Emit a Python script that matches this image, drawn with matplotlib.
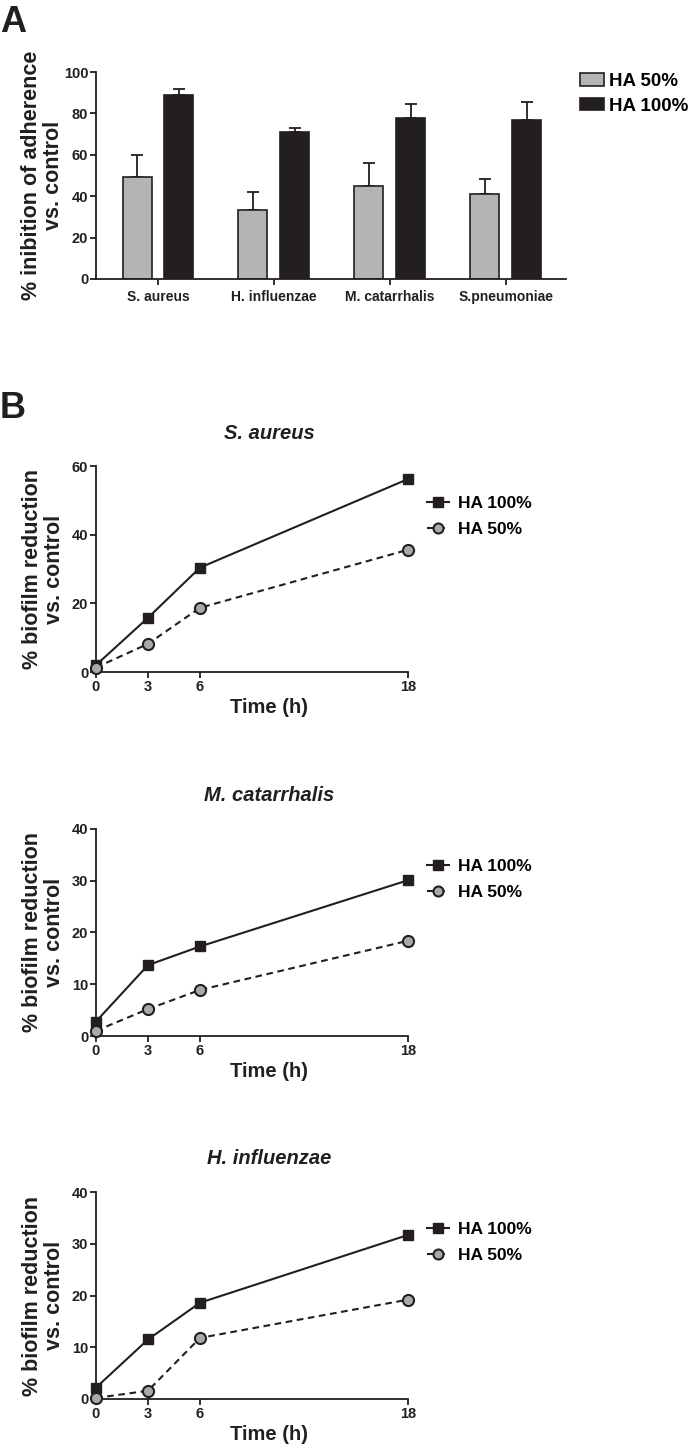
import numpy as np
import matplotlib
matplotlib.use("Agg")
import matplotlib.pyplot as plt
from matplotlib.patches import Patch

# data
bacteria = ['S. aureus', 'H. influenzae', 'M. catarrhalis', 'S.pneumoniae']
adh_ha50 = [49.5, 33.5, 45.0, 41.0]
adh_ha50_err = [10.5, 8.5, 11.0, 7.5]
adh_ha100 = [89.0, 71.0, 78.0, 77.0]
adh_ha100_err = [3.0, 2.0, 6.5, 8.5]

time_h = [0, 3, 6, 18]
time_ticks = [0, 3, 6, 18]

sa_ha100 = [2.0, 15.8, 30.4, 56.2]
sa_ha50 = [1.3, 8.2, 18.7, 35.6]
mc_ha100 = [2.8, 13.7, 17.3, 30.1]
mc_ha50 = [1.0, 5.2, 8.9, 18.4]
hi_ha100 = [2.2, 11.5, 18.6, 31.7]
hi_ha50 = [0.2, 1.6, 11.8, 19.2]

GRAY = '#b4b4b4'
DARK = '#231f20'
MARK_GRAY = '#a9a9a9'

FONT = ['Liberation Sans', 'DejaVu Sans']
plt.rcParams['font.family'] = FONT
plt.rcParams['font.weight'] = 'bold'

W, H = 689, 1453
fig = plt.figure(figsize=(W / 100, H / 100), dpi=100)


def box(x0, x1, ytop, ybot):
    return [x0 / W, 1 - ybot / H, (x1 - x0) / W, (ybot - ytop) / H]


def style_axes(ax):
    for s in ['top', 'right']:
        ax.spines[s].set_visible(False)
    for s in ['left', 'bottom']:
        ax.spines[s].set_linewidth(1.3)
        ax.spines[s].set_color(DARK)
    ax.tick_params(direction='out', length=4, width=1.3, color=DARK, pad=1.5,
                   labelsize=10.5, labelcolor=DARK)


# ---- panel A: bars ----
axA = fig.add_axes(box(96, 566, 72, 279))
x = np.arange(len(bacteria))
off, bw = 0.18, 0.25
axA.bar(x - off, adh_ha50, bw, color=GRAY, edgecolor=DARK, linewidth=1.2, zorder=2)
axA.bar(x + off, adh_ha100, bw, color=DARK, edgecolor=DARK, linewidth=1.2, zorder=2)
axA.errorbar(x - off, adh_ha50, yerr=[np.zeros(4), adh_ha50_err], fmt='none',
             ecolor=DARK, elinewidth=1.3, capsize=4.5, capthick=1.3, zorder=1)
axA.errorbar(x + off, adh_ha100, yerr=[np.zeros(4), adh_ha100_err], fmt='none',
             ecolor=DARK, elinewidth=1.3, capsize=4.5, capthick=1.3, zorder=1)
axA.set_xlim(-0.534, 3.52)
axA.set_ylim(0, 100)
axA.set_yticks([0, 20, 40, 60, 80, 100])
axA.set_xticks(x)
axA.set_xticklabels(bacteria)
style_axes(axA)
axA.tick_params(axis='x', pad=4, labelsize=10)
axA.set_ylabel('% inibition of adherence\nvs. control', fontsize=15.5, fontweight='bold',
               color=DARK, linespacing=1.05)
axA.yaxis.set_label_coords(-0.068, 0.5)
axA.legend(handles=[Patch(facecolor=GRAY, edgecolor=DARK, linewidth=1.2, label='HA 50%'),
                    Patch(facecolor=DARK, edgecolor=DARK, linewidth=1.2, label='HA 100%')],
           loc='upper left', bbox_to_anchor=(1.03, 0.995), frameon=False,
           prop={'weight': 'bold', 'size': 13.5},
           handlelength=1.25, handleheight=0.65, handletextpad=0.3, labelspacing=0.4,
           borderaxespad=0, borderpad=0)
fig.text(0 / W, 1 - 22 / H, 'A', fontsize=26, fontweight='bold', va='center', ha='left', color=DARK)

# ---- panel B: time courses ----
panels = [
    ('S. aureus', sa_ha100, sa_ha50, 60, [0, 20, 40, 60], 466, 672),
    ('M. catarrhalis', mc_ha100, mc_ha50, 40, [0, 10, 20, 30, 40], 829, 1036),
    ('H. influenzae', hi_ha100, hi_ha50, 40, [0, 10, 20, 30, 40], 1192, 1399),
]
for title, y100, y50, ymax, yt, ytop, ybot in panels:
    ax = fig.add_axes(box(96, 408, ytop, ybot))
    ax.plot(time_h, y100, '-', color=DARK, lw=1.5, marker='s', ms=7.5,
            mfc=DARK, mec=DARK, label='HA 100%', clip_on=False, zorder=3)
    ax.plot(time_h, y50, '--', color=DARK, lw=1.5, dashes=(3.2, 2.2), marker='o', ms=8,
            mfc=MARK_GRAY, mec=DARK, mew=1.5, label='HA 50%', clip_on=False, zorder=3)
    ax.set_xlim(0, 18)
    ax.set_ylim(0, ymax)
    ax.set_xticks(time_ticks)
    ax.set_yticks(yt)
    style_axes(ax)
    ax.set_xlabel('Time (h)', fontsize=14.5, fontweight='bold', color=DARK)
    ax.xaxis.set_label_coords(0.555, -0.125)
    ax.set_ylabel('% biofilm reduction\nvs. control', fontsize=15.5, fontweight='bold',
                  color=DARK, linespacing=1.05)
    ax.yaxis.set_label_coords(-0.1, 0.5)
    ax.text(0.555, 1.16, title, transform=ax.transAxes, ha='center', va='center',
            fontsize=14.5, fontweight='bold', fontstyle='italic', color=DARK)
    ax.legend(loc='upper left', bbox_to_anchor=(1.06, 0.855), frameon=False,
              prop={'weight': 'bold', 'size': 12.5},
              handlelength=1.3, handletextpad=0.5, labelspacing=0.6,
              borderaxespad=0, borderpad=0, markerscale=0.9)

fig.text(0 / W, 1 - 408 / H, 'B', fontsize=26, fontweight='bold', va='center', ha='left', color=DARK)

fig.savefig('out.png', dpi=100)
